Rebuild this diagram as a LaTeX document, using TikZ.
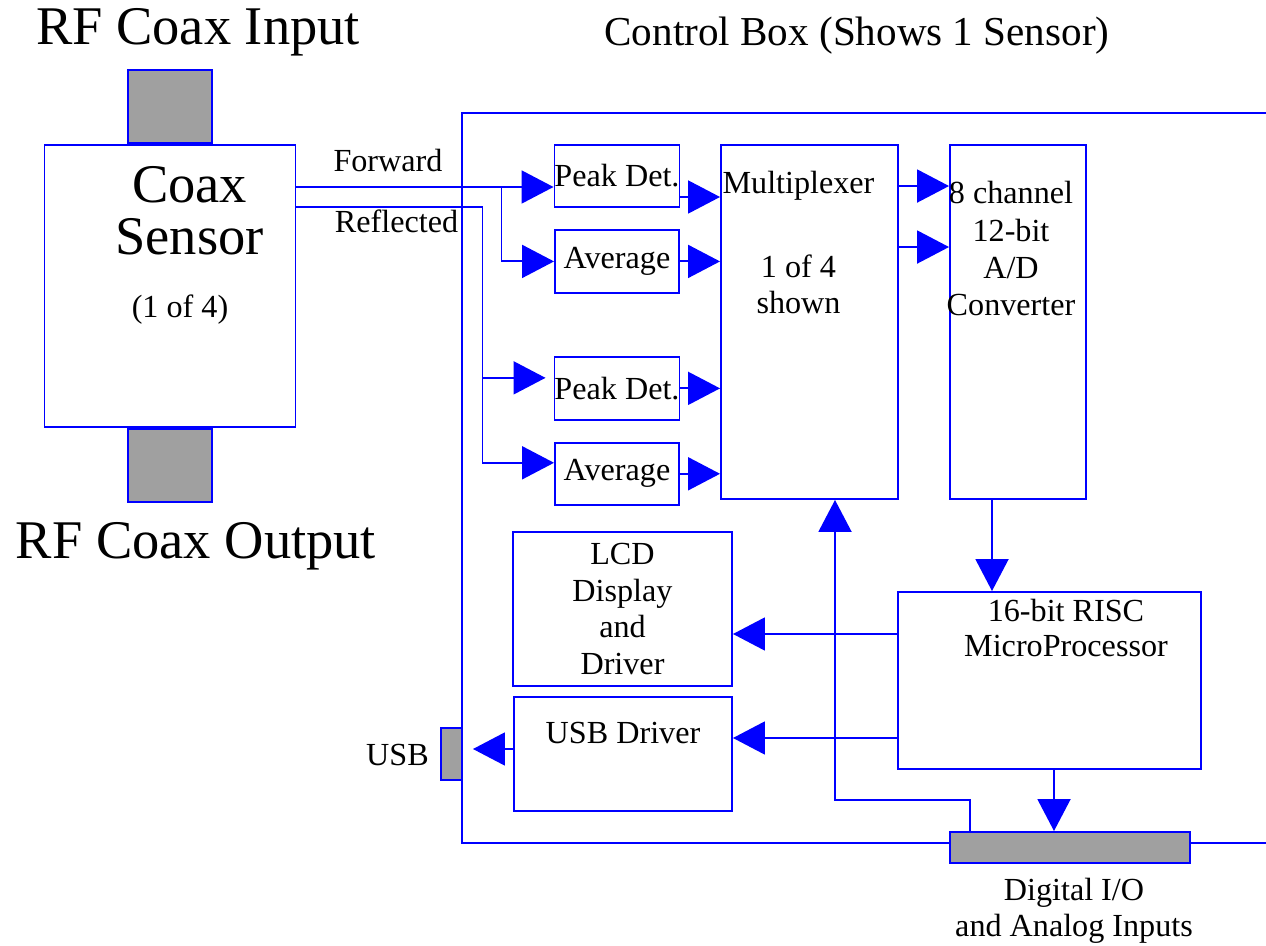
\documentclass[tikz,border=0pt]{standalone}
\usepackage{fontspec}
\setmainfont{Liberation Serif}
\usetikzlibrary{positioning, arrows.meta}
\definecolor{garis}{RGB}{0,0,255}
\definecolor{abu}{RGB}{160,160,160}

\begin{document}
\begin{tikzpicture}[font=\fontsize{18.3pt}{21pt}\selectfont,
      blok/.style={draw=garis, line width=1.1pt, fill=white, align=center, inner sep=0pt},
      konektor/.style={draw=garis, line width=1.1pt, fill=abu, inner sep=0pt},
      kop/.style={inner sep=0pt, align=center},
      besar/.style={font=\fontsize{31pt}{29.6pt}\selectfont},
      lijn/.style={draw=garis, line width=1.1pt},
      panah/.style={draw=garis, line width=1.1pt, -{Triangle[length=0.64cm, width=0.66cm]}}
    ]
    \useasboundingbox (0,0) rectangle (25.32,-18.92);

    % --- titles ---
    \node[kop, besar, anchor=base] (jdlin)  at (3.96, -0.90)  {RF Coax Input};
    \node[kop, besar, anchor=base] (jdlout) at (3.92, -11.16) {RF Coax Output};
    \node[kop, anchor=base, font=\fontsize{23.4pt}{26pt}\selectfont] (jdlbox) at (17.14, -0.92) {Control Box (Shows 1 Sensor)};

    % --- coax sensor ---
    \node[blok, minimum width=5.02cm, minimum height=5.64cm] (sensor) at (3.40, -5.72) {};
    \node[konektor, minimum width=1.68cm, minimum height=1.46cm, above=0cm of sensor] (conin) {};
    \node[konektor, minimum width=1.68cm, minimum height=1.46cm, below=0cm of sensor] (conout) {};
    \node[kop, besar, below=0.44cm of sensor.north, xshift=0.39cm] (sensortxt) {Coax\\Sensor};
    \node[kop, below=3.0cm of sensor.north, xshift=0.2cm] (sensornum) {(1 of 4)};

    % --- control box outline ---
    \coordinate (kotak) at (9.24, -2.26);
    \coordinate (kotakbawah) at (9.24, -16.86);
    \coordinate (kanan) at (25.32, -2.26);

    % --- detectors ---
    \node[blok, minimum width=2.48cm, minimum height=1.24cm] (peak1) at (12.34, -3.52) {Peak Det.};
    \node[blok, minimum width=2.48cm, minimum height=1.26cm, below=0.42cm of peak1] (avg1) {Average};
    \node[blok, minimum width=2.48cm, minimum height=1.26cm, below=1.24cm of avg1] (peak2) {Peak Det.};
    \node[blok, minimum width=2.48cm, minimum height=1.24cm, below=0.42cm of peak2] (avg2) {Average};

    % --- multiplexer, A/D, processor ---
    \node[blok, minimum width=3.54cm, minimum height=7.08cm] (mux) at (16.19, -6.44) {};
    \node[kop, below=0.54cm of mux.north, xshift=-0.22cm, font=\fontsize{18.3pt}{20.5pt}\selectfont] (muxtxt) {Multiplexer\\[0.96cm]1 of 4\\shown};
    \node[blok, minimum width=2.72cm, minimum height=7.08cm] (ad) at (20.36, -6.44) {};
    \node[kop, below=0.74cm of ad.north, xshift=-0.14cm, font=\fontsize{18.3pt}{21.3pt}\selectfont] (adtxt) {8 channel\\12-bit\\A/D\\Converter};
    \node[blok, minimum width=6.06cm, minimum height=3.54cm] (mp) at (20.99, -13.61) {};
    \node[kop, below=0.16cm of mp.north, xshift=0.33cm, font=\fontsize{18.3pt}{20pt}\selectfont] (mptxt) {16-bit RISC\\MicroProcessor};

    % --- LCD, USB ---
    \node[blok, minimum width=4.38cm, minimum height=3.08cm] (lcd) at (12.45, -12.18) {LCD\\Display\\and\\Driver};
    \node[blok, minimum width=4.36cm, minimum height=2.28cm] (usbdrv) at (12.46, -15.08) {};
    \node[kop, below=0.52cm of usbdrv.north] (usbtxt) {USB Driver};
    \node[konektor, minimum width=0.42cm, minimum height=1.04cm] (usbcon) at (9.03, -15.08) {};
    \node[kop, anchor=base] (usblbl) at (7.95, -15.30) {USB};

    % --- digital I/O ---
    \node[konektor, minimum width=4.8cm, minimum height=0.62cm] (dio) at (21.40, -16.95) {};
    \node[kop, below=0.28cm of dio, xshift=0.08cm, font=\fontsize{18.3pt}{20.5pt}\selectfont] (diotxt) {Digital I/O\\and Analog Inputs};

    \draw[lijn] (kanan) -- (kotak) -- (kotakbawah) -- (kotakbawah -| dio.west);
    \draw[lijn] (kotakbawah -| dio.east) -- (kotakbawah -| kanan);

    % --- sensor outputs ---
    \node[kop, anchor=base] (fwdlbl) at (7.76, -3.44) {Forward};
    \node[kop, anchor=base] (reflbl) at (7.93, -4.66) {Reflected};

    \coordinate (fwd) at ([yshift=-0.22cm]peak1.west);
    \coordinate (fsplit) at ([xshift=-1.04cm]fwd);
    \draw[panah] (sensor.east |- fwd) -- (fwd);
    \draw[panah] (fsplit) |- (avg1.west);

    \coordinate (rsplit) at (9.65, -4.14);
    \coordinate (pk2in) at ([yshift=0.21cm]peak2.west);
    \coordinate (av2in) at ([yshift=0.22cm]avg2.west);
    \draw[panah] (sensor.east |- rsplit) -- (rsplit) |- (av2in);
    \draw[panah, shorten >=0.16cm] (rsplit |- pk2in) -- (pk2in);

    % --- detectors -> multiplexer ---
    \coordinate (pk1out) at ([yshift=-0.42cm]peak1.east);
    \draw[panah] (pk1out) -- (pk1out -| mux.west);
    \draw[panah] (avg1) -- (avg1 -| mux.west);
    \draw[panah] (peak2) -- (peak2 -| mux.west);
    \draw[panah] (avg2) -- (avg2 -| mux.west);

    % --- multiplexer -> A/D -> processor ---
    \draw[panah] ([yshift=-0.84cm]mux.north east) -- ([yshift=-0.84cm]ad.north west);
    \draw[panah] ([yshift=-2.06cm]mux.north east) -- ([yshift=-2.06cm]ad.north west);
    \coordinate (adout) at ([xshift=-0.52cm]ad.south);
    \draw[panah] (adout) -- (adout |- mp.north);

    % --- processor -> LCD, USB, I/O ---
    \coordinate (mplcd) at ([yshift=0.93cm]mp.west);
    \draw[panah] (mplcd) -- (mplcd -| lcd.east);
    \coordinate (mpusb) at ([yshift=-1.15cm]mp.west);
    \draw[panah] (mpusb) -- (mpusb -| usbdrv.east);
    \coordinate (usbout) at ([yshift=0.1cm]usbdrv.west);
    \draw[panah, shorten >=0.2cm] (usbout) -- (usbout -| usbcon.east);
    \coordinate (mpdio) at ([xshift=0.09cm]mp.south);
    \draw[panah] (mpdio) -- (mpdio |- dio.north);

    % --- I/O -> multiplexer ---
    \coordinate (dioup) at ([xshift=0.42cm]dio.north west);
    \coordinate (muxin) at ([xshift=0.51cm]mux.south);
    \draw[panah] (dioup) -- ++(0,0.62) -| (muxin);

\end{tikzpicture}
\end{document}
